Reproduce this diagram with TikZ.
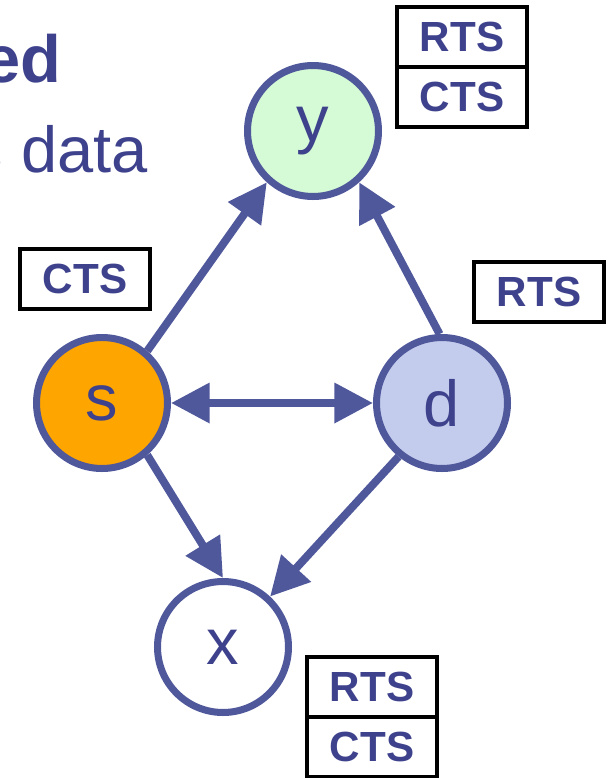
\documentclass[tikz,border=0pt]{standalone}
\usepackage{fontspec}
\setmainfont{Liberation Sans}
\usepackage{xcolor}
\usepackage{tikz}
\usetikzlibrary{arrows.meta,positioning}
\definecolor{edgeblue}{RGB}{80,88,156}
\definecolor{textblue}{RGB}{62,66,140}
\definecolor{ygreen}{RGB}{212,250,214}
\definecolor{sorange}{RGB}{255,165,0}
\definecolor{dlilac}{RGB}{196,204,238}

\begin{document}
\begin{tikzpicture}[x=0.02cm, y=-0.02cm,
  >={Triangle[length=22pt,width=22pt]},
  station/.style={circle, draw=edgeblue, line width=4pt, minimum size=2.62cm, inner sep=0pt,
    text=textblue, font=\fontsize{37}{37}\selectfont},
  frame/.style={rectangle, draw=black, line width=2.3pt, minimum width=2.6cm, minimum height=1.2cm,
    inner sep=0pt, outer sep=0pt, text=textblue, font=\fontsize{24}{24}\selectfont\bfseries},
  link/.style={draw=edgeblue, line width=4.5pt},
  heading/.style={anchor=base east, inner sep=0pt, text=textblue}]
\useasboundingbox (0,0) rectangle (610,778);
\clip (0,0) rectangle (610,778);
% slide text
\node[heading, font=\fontsize{38}{38}\selectfont\bfseries] (title) at (62,82) {ed};
\node[heading, font=\fontsize{37}{37}\selectfont] (line) at (148,172) {s data};
% stations
\node[station, fill=ygreen] (y) at (313,131) {y};
\node[station, fill=sorange] (s) at (102,403) {s};
\node[station, fill=dlilac] (d) at (442,403) {d};
\node[station, fill=white] (x) at (223,647) {x};
% frames
\node[frame] (yrts) at (462,37) {RTS};
\node[frame, below=0pt of yrts] (ycts) {CTS};
\node[frame] (scts) at (85,279) {CTS};
\node[frame] (drts) at (539,292) {RTS};
\node[frame] (xrts) at (372,687) {RTS};
\node[frame, below=0pt of xrts] (xcts) {CTS};
% links
\draw[link,->] (s.49) -- (y.228);
\draw[link,->] (d.92) -- (y.312);
\draw[link,<->] (s.east) -- (d.west);
\draw[link,->] (s.-49) -- (x.north);
\draw[link,->] (d.231) -- (x.47);
\end{tikzpicture}
\end{document}
